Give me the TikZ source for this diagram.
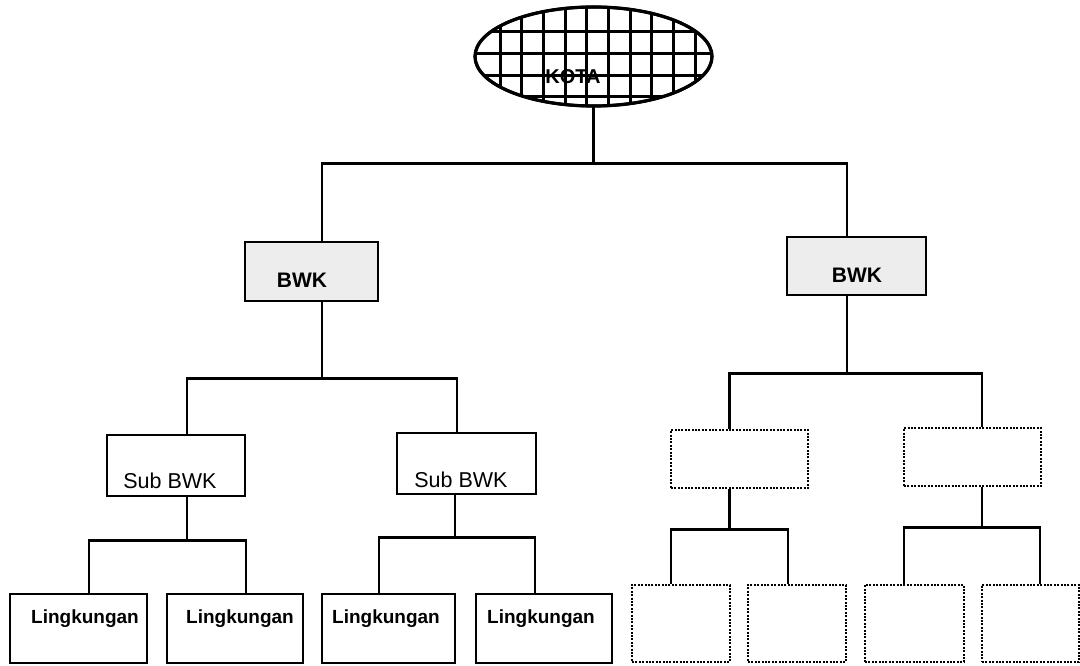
\documentclass[tikz,border=0pt]{standalone}
\usepackage{fontspec}
\setmainfont{Liberation Sans}
\usetikzlibrary{shapes.geometric}
\begin{document}
\begin{tikzpicture}[x=1pt,y=-1pt,
  solidbox/.style={draw, line width=2.6pt, rectangle, inner sep=0pt},
  graybox/.style={solidbox, fill=black!7},
  dotbox/.style={draw, line width=2.4pt, dash pattern=on 2pt off 1.4pt, rectangle, inner sep=0pt},
  conn/.style={line width=2.6pt},
  bwktext/.style={font=\fontsize{21}{24}\selectfont\bfseries, inner sep=0pt},
  subtext/.style={font=\fontsize{21.5}{24}\selectfont, inner sep=0pt},
  leaftext/.style={font=\fontsize{19}{22}\selectfont\bfseries, inner sep=0pt}]
\useasboundingbox (0,0) rectangle (1080,666);

% KOTA ellipse with grid
\node (kota) [ellipse, draw, line width=3pt, minimum width=237pt, minimum height=99pt, inner sep=0pt] at (593.5,56.5) {};
\begin{scope}
  \clip (593.5,56.5) ellipse [x radius=118.5, y radius=49.5];
  \foreach \i in {0,...,9} {
    \draw[line width=3pt] ({500+21.7*\i},0) -- ({500+21.7*\i},120);
  }
  \foreach \j in {0,...,3} {
    \draw[line width=3pt] (460,{31.7+21.7*\j}) -- (730,{31.7+21.7*\j});
  }
\end{scope}
\draw[line width=3.2pt] (593.5,56.5) ellipse [x radius=118.5, y radius=49.5];
\node (kotat) [bwktext, font=\fontsize{20}{24}\selectfont\bfseries] at (573,77) {KOTA};

% BWK level
\node (bwk1) [graybox, minimum width=133pt, minimum height=59pt] at (311.5,271.5) {};
\node (bwk1t) [bwktext] at (302,280) {BWK};
\node (bwk2) [graybox, minimum width=139pt, minimum height=58pt] at (856.5,266) {};
\node (bwk2t) [bwktext] at (857,275) {BWK};

% Sub BWK level
\node (sub1) [solidbox, minimum width=138pt, minimum height=61pt] at (176,465.5) {};
\node (sub1t) [subtext] at (170,481) {Sub BWK};
\node (sub2) [solidbox, minimum width=139pt, minimum height=61pt] at (466.5,463.5) {};
\node (sub2t) [subtext] at (461,480) {Sub BWK};
\node (sub3) [dotbox, minimum width=137pt, minimum height=58pt] at (739.5,459) {};
\node (sub4) [dotbox, minimum width=137pt, minimum height=58pt] at (972.5,457) {};

% Leaves
\node (l1) [solidbox, minimum width=137pt, minimum height=69pt] at (78.5,628.5) {};
\node (l2) [solidbox, minimum width=136pt, minimum height=69pt] at (235,628.5) {};
\node (l3) [solidbox, minimum width=133pt, minimum height=69pt] at (388.5,628.5) {};
\node (l4) [solidbox, minimum width=136pt, minimum height=69pt] at (544,628.5) {};
\node (l1t) [leaftext] at (85,619) {Lingkungan};
\node (l2t) [leaftext] at (240,619) {Lingkungan};
\node (l3t) [leaftext] at (386,619) {Lingkungan};
\node (l4t) [leaftext] at (541,619) {Lingkungan};

\node (d1) [dotbox, minimum width=98pt, minimum height=77pt] at (681,623.5) {};
\node (d2) [dotbox, minimum width=98pt, minimum height=77pt] at (797,623.5) {};
\node (d3) [dotbox, minimum width=99pt, minimum height=77pt] at (914.5,623.5) {};
\node (d4) [dotbox, minimum width=97pt, minimum height=77pt] at (1030.5,623.5) {};

% Connectors
\draw[conn] (kota.south) -- ++(0,56) coordinate (j0);
\draw[conn] (j0) -| ([xshift=10.5pt]bwk1.north);
\draw[conn] (j0) -| ([xshift=-9.5pt]bwk2.north);

\draw[conn] ([xshift=10.5pt]bwk1.south) -- ++(0,76) coordinate (j1);
\draw[conn] (j1) -| ([xshift=11pt]sub1.north);
\draw[conn] (j1) -| ([xshift=-9.5pt]sub2.north);

\draw[conn] ([xshift=-9.5pt]bwk2.south) -- ++(0,77) coordinate (j2);
\draw[conn] (j2) -| ([xshift=-10pt]sub3.north);
\draw[conn] (j2) -| ([xshift=9.5pt]sub4.north);

\draw[conn] ([xshift=11pt]sub1.south) -- ++(0,43) coordinate (j3);
\draw[conn] (j3) -| ([xshift=10.5pt]l1.north);
\draw[conn] (j3) -| ([xshift=11pt]l2.north);

\draw[conn] ([xshift=-11.5pt]sub2.south) -- ++(0,42) coordinate (j4);
\draw[conn] (j4) -| ([xshift=-9.5pt]l3.north);
\draw[conn] (j4) -| ([xshift=-9pt]l4.north);

\draw[conn] ([xshift=-10pt]sub3.south) -- ++(0,40) coordinate (j5);
\draw[conn] (j5) -| ([xshift=-10pt]d1.north);
\draw[conn] (j5) -| ([xshift=-9pt]d2.north);

\draw[conn] ([xshift=9.5pt]sub4.south) -- ++(0,40) coordinate (j6);
\draw[conn] (j6) -| ([xshift=-10.5pt]d3.north);
\draw[conn] (j6) -| ([xshift=9.5pt]d4.north);
\end{tikzpicture}
\end{document}
